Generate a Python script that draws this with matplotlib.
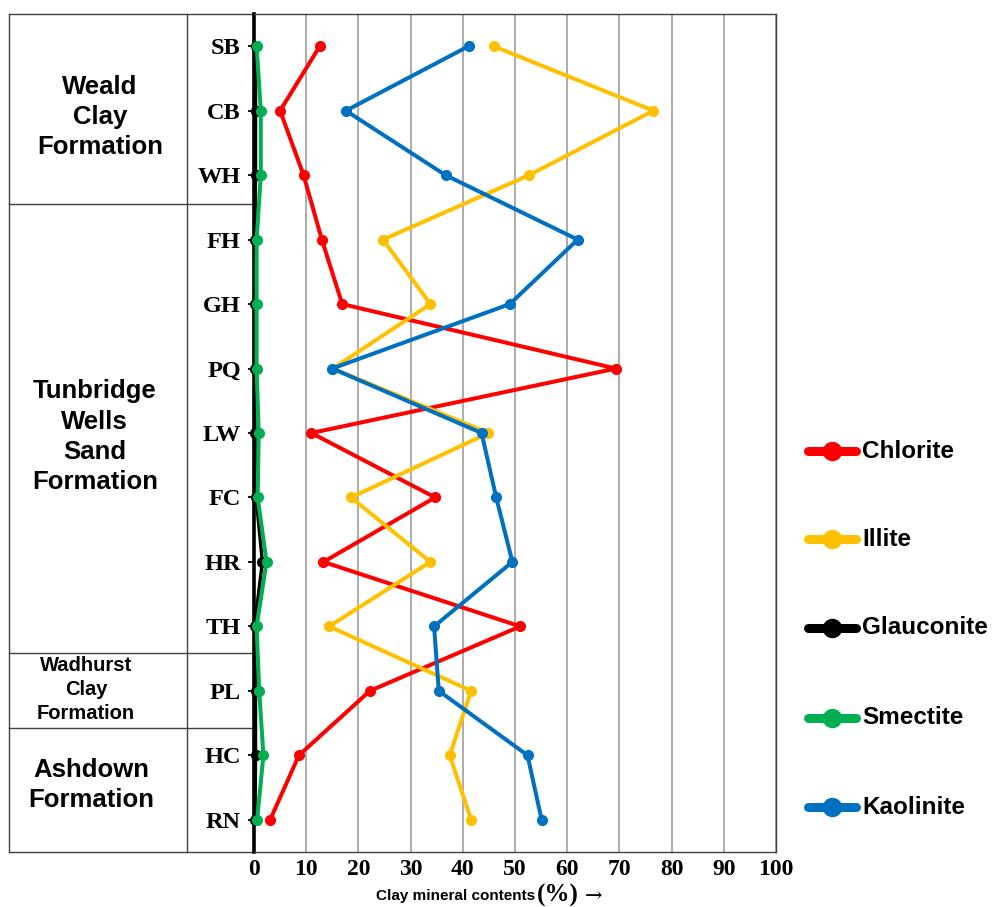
import matplotlib
matplotlib.use("Agg")
import matplotlib.pyplot as plt
import matplotlib.transforms as mtransforms
from matplotlib.lines import Line2D

# Sample localities, top (youngest) to bottom
samples = ["SB", "CB", "WH", "FH", "GH", "PQ", "LW", "FC", "HR", "TH", "PL", "HC", "RN"]

# Clay mineral contents (%)
chlorite   = [12.6, 5.0, 9.5, 13.0, 16.9, 69.3, 11.0, 34.7, 13.3, 51.0, 22.2, 8.6, 3.1]
illite     = [45.9, 76.5, 52.7, 24.7, 33.8, 15.1, 44.9, 18.6, 33.8, 14.4, 41.6, 37.5, 41.6]
glauconite = [0.3, 0.3, 0.3, 0.2, 0.1, 0.1, 0.2, 0.4, 1.6, 0.1, 0.3, 0.3, 0.2]
smectite   = [0.5, 1.3, 1.3, 0.5, 0.5, 0.5, 0.9, 0.7, 2.4, 0.5, 1.0, 1.8, 0.6]
kaolinite  = [41.1, 17.6, 36.7, 62.0, 49.0, 15.0, 43.6, 46.4, 49.5, 34.5, 35.4, 52.4, 55.1]

series_names = ["Chlorite", "Illite", "Glauconite", "Smectite", "Kaolinite"]
series_values = [chlorite, illite, glauconite, smectite, kaolinite]
series_colors = ["#FF0000", "#FFC000", "#000000", "#00B050", "#0070C0"]

# Formation blocks: label, centre row, font size, line spacing
formations = ["Weald\nClay\nFormation", "Tunbridge\nWells\nSand\nFormation",
              "Wadhurst\nClay\nFormation", "Ashdown\nFormation"]
formation_rows = [1.10, 6.06, 9.98, 11.46]
formation_sizes = [18.5, 18.5, 14.5, 18.5]
formation_spacing = [1.30, 1.33, 1.33, 1.30]
formation_x = [-0.295, -0.305, -0.322, -0.312]
# Boundaries between formations (in row units)
formation_bounds = [2.45, 9.41, 10.57]

W, H = 992, 907
fig = plt.figure(figsize=(W / 100, H / 100), dpi=100)
ax = fig.add_axes([254 / W, 55 / H, 522 / W, 838 / H])

rows = list(range(len(samples)))
ax.set_xlim(0, 100)
ax.set_ylim(len(samples) - 0.5, -0.5)

lw_map = {"Glauconite": 2.4}
for name, vals, col in zip(series_names, series_values, series_colors):
    ax.plot(vals, rows, color=col, lw=lw_map.get(name, 2.9), marker="o",
            ms=7, solid_capstyle="round", zorder=3, clip_on=False)

# Axis styling
ax.set_xticks(range(0, 101, 10))
ax.set_yticks(rows)
ax.set_yticklabels(samples)
ax.grid(axis="x", color="#A6A6A6", lw=1.3, zorder=0)
ax.set_axisbelow(True)
for s in ["top", "right", "bottom"]:
    ax.spines[s].set_color("#404040")
    ax.spines[s].set_linewidth(1.0)
ax.spines["left"].set_color("black")
ax.spines["left"].set_linewidth(2.6)
ax.spines["left"].set_zorder(2.5)

ax.tick_params(axis="x", length=0, pad=5)
ax.tick_params(axis="y", length=4.5, width=1.3, pad=5, direction="out")
for lab in ax.get_xticklabels():
    lab.set_family(["Liberation Serif", "DejaVu Serif"])
    lab.set_fontweight("bold")
    lab.set_fontsize(17)
for lab in ax.get_yticklabels():
    lab.set_family(["Liberation Serif", "DejaVu Serif"])
    lab.set_fontweight("bold")
    lab.set_fontsize(17.5)

# Table of formations to the left of the plot
trans = mtransforms.blended_transform_factory(ax.transAxes, ax.transData)
x_outer = (8.5 - 254) / 522
x_col = (187 - 254) / 522
y_top, y_bot = -0.5, len(samples) - 0.5
frame_kw = dict(color="#404040", lw=1.0, transform=trans, clip_on=False)
ax.add_line(Line2D([x_outer, x_outer], [y_top, y_bot], **frame_kw))
ax.add_line(Line2D([x_col, x_col], [y_top, y_bot], **frame_kw))
ax.add_line(Line2D([x_outer, 0], [y_top, y_top], **frame_kw))
ax.add_line(Line2D([x_outer, 0], [y_bot, y_bot], **frame_kw))
for yb in formation_bounds:
    ax.add_line(Line2D([x_outer, 0], [yb, yb], **frame_kw))

for lab, yr, fs, ls, xf in zip(formations, formation_rows, formation_sizes,
                               formation_spacing, formation_x):
    ax.text(xf, yr, lab, transform=trans, ha="center", va="center",
            fontsize=fs, fontweight="bold", family="Liberation Sans",
            linespacing=ls, multialignment="center")

# Axis title
fig.text(535 / W, 1 - 896 / H, "Clay mineral contents", ha="right", va="center",
         fontsize=11, fontweight="bold", family="Liberation Sans")
fig.text(537 / W, 1 - 895 / H, "(%)", ha="left", va="center",
         fontsize=18, fontweight="bold", family=["Liberation Serif", "DejaVu Serif"])
fig.text(585 / W, 1 - 896 / H, "\u2192", ha="left", va="center",
         fontsize=15, family=["DejaVu Serif"])

# Legend
legend_y = [451, 539, 628, 718, 807]
for name, col, yp in zip(series_names, series_colors, legend_y):
    yf = 1 - yp / H
    fig.add_artist(Line2D([808 / W, 856 / W], [yf, yf], color=col, lw=6.5,
                          solid_capstyle="round", transform=fig.transFigure))
    fig.add_artist(Line2D([832 / W], [yf], color=col, marker="o", ms=13,
                          transform=fig.transFigure))
    fig.text(862 / W, yf, name, ha="left", va="center", fontsize=17.5,
             fontweight="bold", family="Liberation Sans")

fig.savefig("out.png", dpi=100, facecolor="white")
